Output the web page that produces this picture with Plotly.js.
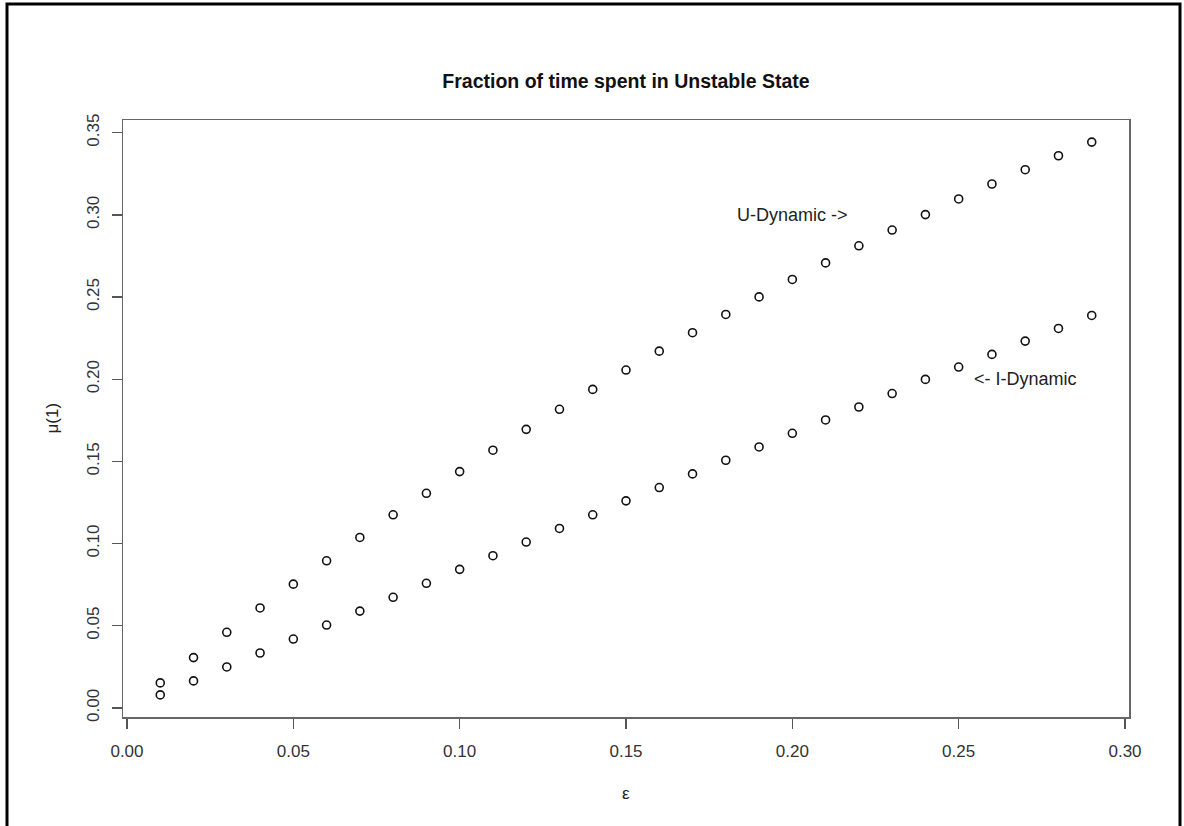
<!DOCTYPE html>
<html>
<head>
<meta charset="utf-8">
<script src="https://cdn.plot.ly/plotly-3.0.1.min.js"></script>
<style>html,body{margin:0;padding:0;background:#fff;}#chart{width:1184px;height:826px;}</style>
</head>
<body>
<div id="chart"></div>
<script>
// Data
const epsilon = [0.01,0.02,0.03,0.04,0.05,0.06,0.07,0.08,0.09,0.10,
                 0.11,0.12,0.13,0.14,0.15,0.16,0.17,0.18,0.19,0.20,
                 0.21,0.22,0.23,0.24,0.25,0.26,0.27,0.28,0.29];
const uDynamic = [0.0152,0.0306,0.0460,0.0608,0.0753,0.0895,0.1037,0.1175,0.1306,0.1438,
                  0.1568,0.1695,0.1817,0.1938,0.2056,0.2171,0.2283,0.2394,0.2501,0.2607,
                  0.2708,0.2812,0.2908,0.3002,0.3097,0.3188,0.3275,0.3360,0.3443];
const iDynamic = [0.0079,0.0164,0.0249,0.0334,0.0419,0.0504,0.0589,0.0673,0.0758,0.0843,
                  0.0926,0.1009,0.1092,0.1175,0.1260,0.1341,0.1424,0.1507,0.1588,0.1671,
                  0.1752,0.1831,0.1913,0.1999,0.2074,0.2151,0.2232,0.2309,0.2388];
const xTicks = [0.00,0.05,0.10,0.15,0.20,0.25,0.30];
const yTicks = [0.00,0.05,0.10,0.15,0.20,0.25,0.30,0.35];
const tickText = v => v.toFixed(2);
const labels = [
  {x: 0.20, y: 0.30, text: "U-Dynamic ->"},
  {x: 0.27, y: 0.20, text: "<- I-Dynamic"}
];

function rRange(arrs){
  const all = [].concat(...arrs);
  const mn = Math.min(...all), mx = Math.max(...all), d = (mx-mn)*0.04;
  return [mn-d, mx+d];
}

const font = "Liberation Sans, Arial, sans-serif";
const mk = {symbol:'circle-open', size:8, color:'#111', line:{width:1.6, color:'#111'}};
const traces = [
  {x: epsilon, y: uDynamic, mode:'markers', type:'scatter', marker: mk, name:'U-Dynamic'},
  {x: epsilon, y: iDynamic, mode:'markers', type:'scatter', marker: mk, name:'I-Dynamic'}
];

const axisCommon = {
  showgrid:false, zeroline:false, showline:true, mirror:true,
  linecolor:'#666', linewidth:1.5,
  ticks:'outside', ticklen:10, tickwidth:1.3, tickcolor:'#555',
  tickfont:{family:font, size:17, color:'#333'}
};

const layout = {
  width:1184, height:826,
  paper_bgcolor:'#fff', plot_bgcolor:'#fff',
  margin:{l:123, r:55, t:120, b:109},
  showlegend:false,
  title:{text:'Fraction of time spent in Unstable State', font:{family:font, size:19.5, color:'#111', weight:'bold'},
         x:0.5, xref:'paper', y:1-81/826, yref:'container', yanchor:'middle'},
  xaxis: Object.assign({}, axisCommon, {
    range: rRange([epsilon]), tickvals: xTicks, ticktext: xTicks.map(tickText),
    tickangle:0, ticklabelstandoff:8
  }),
  yaxis: Object.assign({}, axisCommon, {
    range: rRange([uDynamic, iDynamic]), tickvals: yTicks, ticktext: yTicks.map(tickText),
    tickangle:-90, ticklabelstandoff:6
  }),
  annotations: labels.map(l => ({x:l.x, y:l.y, xref:'x', yref:'y', text:l.text, showarrow:false,
      xanchor:'center', yanchor:'middle', font:{family:font, size:18, color:'#222'}})).concat([
    {x:0.5, y:(717-793)/597, xref:'paper', yref:'paper', text:'ε', showarrow:false,
     xanchor:'center', yanchor:'middle', font:{family:font, size:17, color:'#222'}},
    {x:(52-123)/1006, y:0.5, xref:'paper', yref:'paper', text:'μ(1)', showarrow:false, textangle:-90,
     xanchor:'center', yanchor:'middle', font:{family:font, size:17, color:'#222'}}
  ]),
  shapes:[
    {type:'rect', xref:'paper', yref:'paper',
     x0:(7-123)/1006, x1:(1180-123)/1006, y0:(717-840)/597, y1:(717-4)/597,
     line:{color:'#000', width:3}, fillcolor:'rgba(0,0,0,0)'}
  ]
};

Plotly.newPlot('chart', traces, layout, {displayModeBar:false, staticPlot:true});
</script>
</body>
</html>
